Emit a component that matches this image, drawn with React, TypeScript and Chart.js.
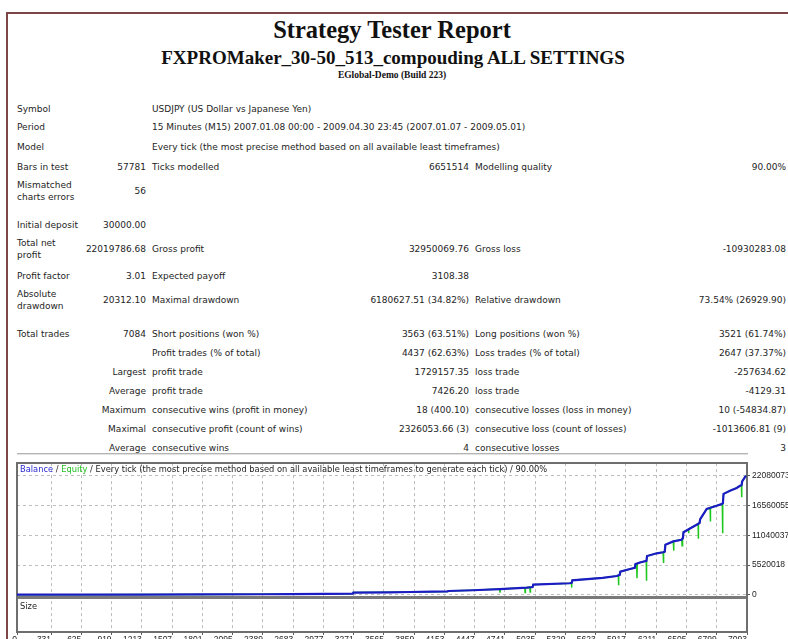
import React, { useEffect, useRef } from "react";
import { Chart, registerables } from "chart.js";

Chart.register(...registerables);

// ---- chart data (trade number -> account money) ----
const balanceTrades = [0, 600, 1200, 1800, 2400, 2650, 3000, 3262, 3268, 3620, 3820, 4040, 4185, 4190, 4430, 4690, 4955, 5010, 5016, 5370, 5390, 5396, 5690, 5828, 5856, 5862, 5956, 6003, 6009, 6053, 6116, 6122, 6216, 6278, 6294, 6300, 6377, 6456, 6470, 6476, 6539, 6604, 6632, 6638, 6685, 6701, 6798, 6845, 6859, 6865, 6928, 6993, 7025, 7040, 7046, 7073, 7084];
const balanceValues = [30000, 42000, 60000, 85000, 115000, 150000, 190000, 220000, 420000, 470000, 530000, 600000, 640000, 720000, 860000, 1080000, 1330000, 1450000, 1900000, 2150000, 2250000, 2700000, 3150000, 3500000, 3700000, 4300000, 4800000, 5000000, 5700000, 6000000, 6300000, 7200000, 7700000, 7900000, 8000000, 9300000, 9900000, 10200000, 10500000, 11600000, 12300000, 13000000, 13300000, 14000000, 15400000, 15900000, 16500000, 16800000, 17000000, 18700000, 19300000, 19800000, 20200000, 20300000, 21000000, 21800000, 22049787];

const equityTrades = [0, 600, 1200, 1800, 2400, 2650, 3000, 3262, 3268, 3620, 3820, 4040, 4185, 4190, 4430, 4690, 4693, 4696, 4934, 4937, 4940, 4983, 4986, 4989, 5010, 5016, 5370, 5387, 5389, 5391, 5396, 5690, 5828, 5843, 5845, 5847, 5856, 5862, 5956, 6003, 6009, 6021, 6024, 6027, 6053, 6114, 6116, 6118, 6122, 6216, 6278, 6281, 6284, 6294, 6300, 6377, 6380, 6383, 6456, 6460, 6462, 6464, 6470, 6476, 6524, 6526, 6528, 6539, 6604, 6618, 6620, 6622, 6632, 6638, 6685, 6701, 6735, 6737, 6739, 6798, 6845, 6853, 6855, 6857, 6859, 6865, 6928, 6993, 7025, 7039, 7041, 7043, 7046, 7073, 7084];
const equityValues = [30000, 42000, 60000, 85000, 115000, 150000, 190000, 220000, 420000, 470000, 530000, 600000, 640000, 720000, 860000, 1080000, 420000, 1090000, 1300000, 450000, 1310000, 1380000, 550000, 1390000, 1450000, 1900000, 2150000, 2240000, 1350000, 2250000, 2700000, 3150000, 3500000, 3600000, 1800000, 3610000, 3700000, 4300000, 4800000, 5000000, 5700000, 5750000, 3100000, 5800000, 6000000, 6300000, 2600000, 6300000, 7200000, 7700000, 7900000, 5900000, 7900000, 8000000, 9300000, 9900000, 8200000, 9950000, 10200000, 10300000, 9100000, 10350000, 10500000, 11600000, 12100000, 11400000, 12150000, 12300000, 13000000, 13150000, 10400000, 13200000, 13300000, 14000000, 15400000, 15900000, 16100000, 13600000, 16150000, 16500000, 16800000, 16900000, 11400000, 16950000, 17000000, 18700000, 19300000, 19800000, 20200000, 20300000, 18100000, 20300000, 21000000, 21800000, 22049787];

const xTickValues = [0, 331, 625, 919, 1213, 1507, 1801, 2095, 2389, 2683, 2977, 3271, 3565, 3859, 4153, 4447, 4741, 5035, 5329, 5623, 5917, 6211, 6505, 6799, 7093];
const xTickLabels = ["0", "331", "625", "919", "1213", "1507", "1801", "2095", "2389", "2683", "2977", "3271", "3565", "3859", "4153", "4447", "4741", "5035", "5329", "5623", "5917", "6211", "6505", "6799", "7093"];
const yTickValues = [0, 5520018, 11040037, 16560055, 22080073];
const yTickLabels = ["0", "5520018", "11040037", "16560055", "22080073"];

const X_MIN = 0;
const X_MAX = 7093;
const Y_MIN = -548000;
const Y_MAX = 24400000;

// ---- report table text ----
type Row = { y: number; c1?: string; c2?: string; c3?: string; c4?: string; c5?: string; c6?: string };
const rows: Row[] = [
  { y: 109, c1: "Symbol", c3: "USDJPY (US Dollar vs Japanese Yen)" },
  { y: 127, c1: "Period", c3: "15 Minutes (M15) 2007.01.08 00:00 - 2009.04.30 23:45 (2007.01.07 - 2009.05.01)" },
  { y: 146.5, c1: "Model", c3: "Every tick (the most precise method based on all available least timeframes)" },
  { y: 166.5, c1: "Bars in test", c2: "57781", c3: "Ticks modelled", c4: "6651514", c5: "Modelling quality", c6: "90.00%" },
  { y: 191.4, c1: "Mismatched\ncharts errors", c2: "56" },
  { y: 225, c1: "Initial deposit", c2: "30000.00" },
  { y: 249, c1: "Total net\nprofit", c2: "22019786.68", c3: "Gross profit", c4: "32950069.76", c5: "Gross loss", c6: "-10930283.08" },
  { y: 275.5, c1: "Profit factor", c2: "3.01", c3: "Expected payoff", c4: "3108.38" },
  { y: 300.3, c1: "Absolute\ndrawdown", c2: "20312.10", c3: "Maximal drawdown", c4: "6180627.51 (34.82%)", c5: "Relative drawdown", c6: "73.54% (26929.90)" },
  { y: 334, c1: "Total trades", c2: "7084", c3: "Short positions (won %)", c4: "3563 (63.51%)", c5: "Long positions (won %)", c6: "3521 (61.74%)" },
  { y: 352.5, c3: "Profit trades (% of total)", c4: "4437 (62.63%)", c5: "Loss trades (% of total)", c6: "2647 (37.37%)" },
  { y: 371.5, c2: "Largest", c3: "profit trade", c4: "1729157.35", c5: "loss trade", c6: "-257634.62" },
  { y: 390.5, c2: "Average", c3: "profit trade", c4: "7426.20", c5: "loss trade", c6: "-4129.31" },
  { y: 410, c2: "Maximum", c3: "consecutive wins (profit in money)", c4: "18 (400.10)", c5: "consecutive losses (loss in money)", c6: "10 (-54834.87)" },
  { y: 428.5, c2: "Maximal", c3: "consecutive profit (count of wins)", c4: "2326053.66 (3)", c5: "consecutive loss (count of losses)", c6: "-1013606.81 (9)" },
  { y: 447.5, c2: "Average", c3: "consecutive wins", c4: "4", c5: "consecutive losses", c6: "3" },
];

const TABLE_FONT = "'DejaVu Sans', sans-serif";
const TEXT = "#1e1e1e";

function Cell({ text, top, left, right, twoLine }: { text?: string; top: number; left?: number; right?: number; twoLine?: boolean }) {
  if (!text) return null;
  const base: React.CSSProperties = {
    position: "absolute",
    top: twoLine ? top - 6 : top,
    fontFamily: TABLE_FONT,
    fontSize: 9,
    lineHeight: "12px",
    color: TEXT,
    whiteSpace: "pre",
  };
  if (right !== undefined) {
    return <div style={{ ...base, left: 0, width: right, textAlign: "right" }}>{text}</div>;
  }
  return <div style={{ ...base, left }}>{text}</div>;
}

export default function App() {
  const canvasRef = useRef<HTMLCanvasElement>(null);

  useEffect(() => {
    const canvas = canvasRef.current;
    if (!canvas) return;
    const axisFont = { family: "'Liberation Sans', Arial, sans-serif", size: 8.5 };
    const chart = new Chart(canvas, {
      type: "line",
      data: {
        datasets: [
          {
            label: "Equity",
            data: equityTrades.map((t, i) => ({ x: t, y: equityValues[i] })),
            borderColor: "#1ec81e",
            borderWidth: 1.5,
            pointRadius: 0,
            tension: 0,
            yAxisID: "y",
            xAxisID: "x",
            order: 2,
          },
          {
            label: "Balance",
            data: balanceTrades.map((t, i) => ({ x: t, y: balanceValues[i] })),
            borderColor: "#1c1cc4",
            borderWidth: 2.2,
            pointRadius: 0,
            tension: 0,
            yAxisID: "y",
            xAxisID: "x",
            order: 1,
          },
        ],
      },
      options: {
        animation: false,
        responsive: false,
        maintainAspectRatio: false,
        events: [],
        layout: { padding: { left: 17, top: 5, right: 0, bottom: 0 } },
        plugins: { legend: { display: false }, tooltip: { enabled: false }, title: { display: false } },
        scales: {
          x: {
            type: "linear",
            position: "bottom",
            min: X_MIN,
            max: X_MAX,
            afterBuildTicks: (s: any) => {
              s.ticks = xTickValues.map((v) => ({ value: v }));
            },
            afterFit: (s: any) => {
              s.height = 7;
            },
            ticks: {
              autoSkip: false,
              maxRotation: 0,
              minRotation: 0,
              align: "end",
              padding: 0,
              font: axisFont,
              color: TEXT,
              callback: (_v: any, i: number) => xTickLabels[i],
            },
            grid: { color: "#bdbdbd", lineWidth: 1, drawTicks: true, tickLength: 3, tickColor: "#555", tickBorderDash: [] },
            border: { display: true, color: "#6e6e6e", width: 2, dash: [3, 3] },
          },
          xTop: {
            type: "linear",
            position: "top",
            min: X_MIN,
            max: X_MAX,
            afterFit: (s: any) => {
              s.height = 0;
            },
            ticks: { display: false },
            grid: { display: false, drawTicks: false },
            border: { display: true, color: "#6e6e6e", width: 2 },
          },
          yLeft: {
            type: "linear",
            position: "left",
            afterFit: (s: any) => {
              s.width = 0;
            },
            ticks: { display: false },
            grid: { display: false, drawTicks: false },
            border: { display: true, color: "#6e6e6e", width: 2 },
          },
          y: {
            type: "linear",
            position: "right",
            stack: "panes",
            stackWeight: 136.5,
            min: Y_MIN,
            max: Y_MAX,
            afterBuildTicks: (s: any) => {
              s.ticks = yTickValues.map((v) => ({ value: v }));
            },
            afterFit: (s: any) => {
              s.width = 41;
            },
            ticks: {
              font: axisFont,
              color: TEXT,
              padding: 2,
              callback: (_v: any, i: number) => yTickLabels[i],
            },
            grid: { color: "#bdbdbd", lineWidth: 1, drawTicks: true, tickLength: 3, tickColor: "#555", tickBorderDash: [] },
            border: { display: true, color: "#6e6e6e", width: 2, dash: [3, 3] },
          },
          ySize: {
            type: "linear",
            position: "right",
            stack: "panes",
            stackWeight: 34.5,
            min: 0,
            max: 1,
            afterBuildTicks: (s: any) => {
              s.ticks = [{ value: 1 }];
            },
            afterFit: (s: any) => {
              s.width = 41;
            },
            ticks: { display: false },
            grid: { color: "#7a7a7a", lineWidth: 3, drawTicks: false },
            border: { display: true, color: "#6e6e6e", width: 2, dash: [] },
          },
        },
      } as any,
    });
    return () => chart.destroy();
  }, []);

  return (
    <div style={{ position: "fixed", left: 0, top: 0, width: 788, height: 639, overflow: "hidden", background: "#fff" }}>
      {/* page frame */}
      <div style={{ position: "absolute", left: 6, top: 12, width: 820, height: 700, borderLeft: "2px solid #7d4646", borderTop: "2px solid #7d4646" }} />

      {/* header */}
      <div style={{ position: "absolute", left: 0, width: 784, top: 17.5, textAlign: "center", fontFamily: "'Liberation Serif', serif", fontWeight: "bold", fontSize: 24.5, lineHeight: "24.5px", color: "#111" }}>
        Strategy Tester Report
      </div>
      <div style={{ position: "absolute", left: 0, width: 786, top: 47.5, textAlign: "center", fontFamily: "'Liberation Serif', serif", fontWeight: "bold", fontSize: 19, lineHeight: "19px", color: "#111" }}>
        FXPROMaker_30-50_513_compouding ALL SETTINGS
      </div>
      <div style={{ position: "absolute", left: 0, width: 784, top: 71, textAlign: "center", fontFamily: "'Liberation Serif', serif", fontWeight: "bold", fontSize: 9.5, lineHeight: "9.5px", color: "#111" }}>
        EGlobal-Demo (Build 223)
      </div>

      {/* report table */}
      {rows.map((r, i) => {
        const top = r.y - 6;
        return (
          <React.Fragment key={i}>
            <Cell text={r.c1} top={top} left={17} twoLine={!!r.c1 && r.c1.includes("\n")} />
            <Cell text={r.c2} top={top} right={146} />
            <Cell text={r.c3} top={top} left={152} />
            <Cell text={r.c4} top={top} right={469} />
            <Cell text={r.c5} top={top} left={475} />
            <Cell text={r.c6} top={top} right={786} />
          </React.Fragment>
        );
      })}

      {/* separator rule */}
      <div style={{ position: "absolute", left: 17, top: 453, width: 731, height: 0, borderTop: "1px solid #b4b4b4", borderBottom: "1px solid #e2e2e2" }} />

      {/* chart */}
      <canvas ref={canvasRef} width={788} height={183} style={{ position: "absolute", left: 0, top: 456, width: 788, height: 183, display: "block" }} />

      {/* chart captions */}
      <div style={{ position: "absolute", left: 20, top: 463.5, fontFamily: TABLE_FONT, fontSize: 8.3, lineHeight: "11px", color: TEXT, whiteSpace: "pre" }}>
        <span style={{ color: "#2a2ad0" }}>Balance</span>
        <span> / </span>
        <span style={{ color: "#22c022" }}>Equity</span>
        <span> / Every tick (the most precise method based on all available least timeframes to generate each tick) / 90.00%</span>
      </div>
      <div style={{ position: "absolute", left: 20, top: 601, fontFamily: TABLE_FONT, fontSize: 8.3, lineHeight: "11px", color: TEXT }}>Size</div>
    </div>
  );
}
